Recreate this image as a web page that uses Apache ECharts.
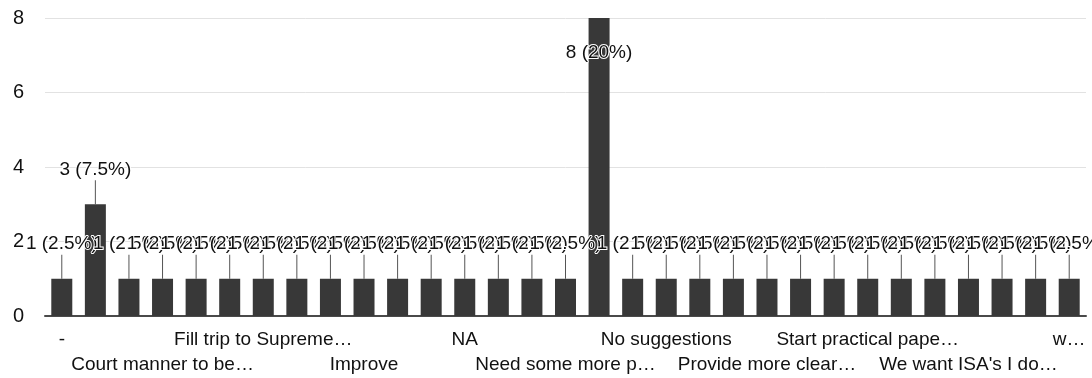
<!DOCTYPE html>
<html>
<head>
<meta charset="utf-8">
<script src="https://cdn.jsdelivr.net/npm/echarts@6/dist/echarts.min.js"></script>
<style>
html,body{margin:0;padding:0;background:#fff;}
#chart{width:1092px;height:378px;}
</style>
</head>
<body>
<div id="chart"></div>
<script>
const categories = [
  "-", "All good", "Conduct more moot courts", "Court manner to be\u2026",
  "Extend the duration", "Field visits", "Fill trip to Supreme\u2026",
  "Good", "Hands on training", "Improve", "Increase number of sessions",
  "More practical exposure", "NA", "Need more time", "Need practical training",
  "Need some more p\u2026", "Nil", "No", "No suggestions", "Nothing",
  "Practical sessions", "Provide more clear\u2026", "Regular workshops",
  "Some more field visits", "Start practical pape\u2026", "Very good",
  "Visit to courts", "We want ISA's I do\u2026", "Yes", "good", "w\u2026"
];
const counts = [
  1, 3, 1, 1, 1, 1, 1, 1, 1, 1, 1, 1, 1, 1, 1, 1,
  8, 1, 1, 1, 1, 1, 1, 1, 1, 1, 1, 1, 1, 1, 1
];
const yTicks = [0, 2, 4, 6, 8];

const total = counts.reduce((a, b) => a + b, 0);
const maxCount = Math.max.apply(null, counts);
const FONT = '"Liberation Sans", Arial, sans-serif';

function rowLabel(margin, phase, forceEnds) {
  const o = {
    interval: function (i) { return i % 6 === phase; },
    margin: margin,
    hideOverlap: false,
    color: '#111',
    fontFamily: FONT,
    fontSize: 19,
    lineHeight: 25
  };
  if (forceEnds) { o.showMinLabel = true; o.showMaxLabel = true; }
  return o;
}

const chart = echarts.init(document.getElementById('chart'));
chart.setOption({
  animation: false,
  backgroundColor: '#ffffff',
  grid: { left: 45, right: 6, top: 18, bottom: 62, containLabel: false },
  xAxis: [{
    type: 'category',
    data: categories,
    axisLine: { show: true, lineStyle: { color: '#4a4a4a', width: 2 } },
    axisTick: { show: false },
    axisLabel: rowLabel(11, 0, true)
  }, {
    type: 'category',
    data: categories,
    position: 'bottom',
    axisLine: { show: false },
    axisTick: { show: false },
    splitLine: { show: false },
    axisLabel: rowLabel(36, 3, false)
  }],
  yAxis: {
    type: 'value',
    min: yTicks[0],
    max: yTicks[yTicks.length - 1],
    interval: yTicks[1] - yTicks[0],
    axisLine: { show: false },
    axisTick: { show: false },
    axisLabel: { color: '#111', fontFamily: FONT, fontSize: 20, margin: 21 },
    splitLine: { show: true, lineStyle: { color: '#e2e2e2', width: 1 } }
  },
  series: [{
    type: 'bar',
    xAxisIndex: 0,
    barWidth: 21,
    data: counts.map(function (v) {
      if (v === maxCount) {
        return { value: v, label: { position: 'insideTop', distance: 25 } };
      }
      return v;
    }),
    itemStyle: { color: '#383838' },
    label: {
      show: true,
      position: 'top',
      distance: 5,
      color: '#111',
      fontFamily: FONT,
      fontSize: 19,
      textBorderColor: '#ffffff',
      textBorderWidth: 2,
      formatter: function (p) {
        return p.value + ' (' + (p.value / total * 100) + '%)';
      }
    },
    labelLine: { show: true, lineStyle: { color: '#555', width: 1 } },
    labelLayout: function (p) {
      if (counts[p.dataIndex] === maxCount) return {};
      return { dy: -20 };
    }
  }]
});
</script>
</body>
</html>
